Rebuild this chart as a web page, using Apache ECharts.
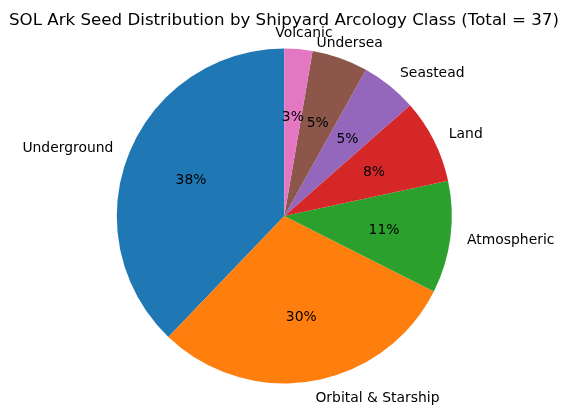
<!DOCTYPE html>
<html>
<head>
<meta charset="utf-8">
<script src="https://cdn.jsdelivr.net/npm/echarts@6/dist/echarts.min.js"></script>
<style>html,body{margin:0;padding:0;background:#fff;}#chart{width:568px;height:416px;}</style>
</head>
<body>
<div id="chart"></div>
<script>
var categories = ['Underground', 'Orbital & Starship', 'Atmospheric', 'Land', 'Seastead', 'Undersea', 'Volcanic'];
var counts = [14, 11, 4, 3, 2, 2, 1];
var colors = ['#1f77b4', '#ff7f0e', '#2ca02c', '#d62728', '#9467bd', '#8c564b', '#e377c2'];
var centeredLabels = ['Undersea', 'Volcanic'];
var titleText = 'SOL Ark Seed Distribution by Shipyard Arcology Class (Total = 37)';

var R = 167.5;
var CX = 284.3, CY = 216;
var FONT = 'DejaVu Sans';

var mainData = categories.map(function (c, i) {
  return { name: c, value: counts[i], itemStyle: { color: colors[i] } };
});
var pctData = categories.map(function (c, i) {
  return { name: c, value: counts[i], itemStyle: { color: 'rgba(0,0,0,0)' } };
});

var chart = echarts.init(document.getElementById('chart'), null, { renderer: 'canvas' });
chart.setOption({
  backgroundColor: '#ffffff',
  animation: false,
  title: {
    text: titleText,
    left: 'center',
    top: 7,
    textStyle: { fontFamily: FONT, fontSize: 16.67, fontWeight: 'normal', color: '#000' }
  },
  series: [
    {
      type: 'pie',
      center: [CX, CY],
      radius: [0, R],
      startAngle: 90,
      clockwise: false,
      avoidLabelOverlap: false,
      silent: true,
      itemStyle: { borderWidth: 0 },
      label: {
        show: true,
        position: 'outside',
        formatter: '{b}',
        fontFamily: FONT,
        fontSize: 13.9,
        color: '#000',
        distanceToLabelLine: 0
      },
      labelLine: { show: false, length: R * 0.1, length2: 0 },
      labelLayout: function (params) {
        var name = categories[params.dataIndex];
        if (centeredLabels.indexOf(name) >= 0) {
          return { dx: -params.labelRect.width / 2 + 4, dy: 1 };
        }
        return { dy: 1 };
      },
      data: mainData
    },
    {
      type: 'pie',
      center: [CX, CY],
      radius: [R * 0.2 - 3, R - 3],
      startAngle: 90,
      clockwise: false,
      avoidLabelOverlap: false,
      silent: true,
      itemStyle: { borderWidth: 0 },
      label: {
        show: true,
        position: 'inside',
        formatter: function (p) { return Math.round(p.percent) + '%'; },
        fontFamily: FONT,
        fontSize: 13.9,
        color: '#000'
      },
      labelLine: { show: false },
      labelLayout: function () { return { dy: 2 }; },
      data: pctData
    }
  ]
});
</script>
</body>
</html>
